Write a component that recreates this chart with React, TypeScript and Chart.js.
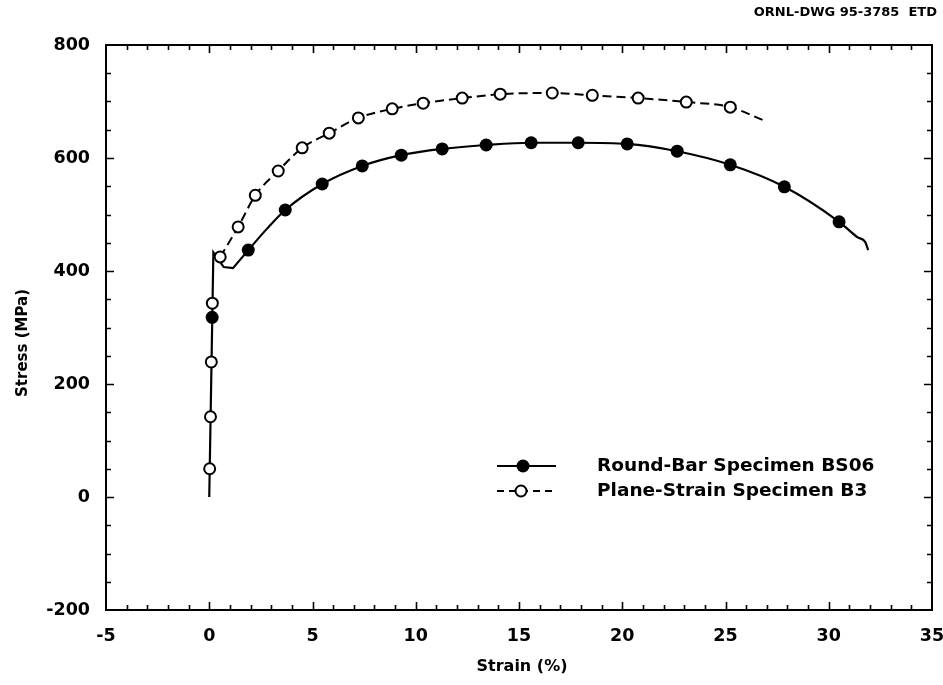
import React, { useEffect, useRef } from "react";
import { Chart, registerables } from "chart.js";

Chart.register(...registerables);

// ---- Data ----
const xMin = -5;
const xMax = 35;
const yMin = -200;
const yMax = 800;

// Round-bar (solid) curve: elastic + yield drop portion
const roundBarYieldStrain = [0, 0.2, 0.7, 1.15, 1.89];
const roundBarYieldStress = [0, 433, 407, 405, 437];
// Round-bar (solid) curve: hardening portion
const roundBarCurveStrain = [1.89, 2.8, 3.68, 5.47, 7.41, 9.3, 11.28, 13.41, 15.59, 17.87, 20.24, 22.66, 25.23, 27.85, 30.5, 31.38, 31.77, 31.91];
const roundBarCurveStress = [437, 475, 508, 554, 586, 605, 616, 623, 627, 627, 625, 612, 588, 549, 487, 460, 451, 437];
// Round-bar markers (filled)
const roundBarMarkStrain = [0.14, 1.89, 3.68, 5.47, 7.41, 9.3, 11.28, 13.41, 15.59, 17.87, 20.24, 22.66, 25.23, 27.85, 30.5];
const roundBarMarkStress = [318, 437, 508, 554, 586, 605, 616, 623, 627, 627, 625, 612, 588, 549, 487];

// Plane-strain (dashed) curve
const planeCurveStrain = [0.53, 1.4, 2.23, 3.34, 4.5, 5.81, 7.22, 8.86, 10.36, 12.25, 14.09, 16.61, 18.55, 20.77, 23.1, 25.23, 26.83];
const planeCurveStress = [425, 478, 534, 577, 618, 644, 671, 687, 697, 706, 713, 715, 711, 706, 699, 690, 667];
// Plane-strain markers (open)
const planeMarkStrain = [0.02, 0.06, 0.1, 0.15, 0.53, 1.4, 2.23, 3.34, 4.5, 5.81, 7.22, 8.86, 10.36, 12.25, 14.09, 16.61, 18.55, 20.77, 23.1, 25.23];
const planeMarkStress = [50, 142, 239, 343, 425, 478, 534, 577, 618, 644, 671, 687, 697, 706, 713, 715, 711, 706, 699, 690];

const seriesLabels = ["Round-Bar Specimen BS06", "Plane-Strain Specimen B3"];
const xTitle = "Strain (%)";
const yTitle = "Stress (MPa)";
const drawingId = "ORNL-DWG 95-3785  ETD";

const FONT = "'DejaVu Sans', 'Liberation Sans', Arial, sans-serif";

const zip = (xs: number[], ys: number[]) => xs.map((x, i) => ({ x, y: ys[i] }));

const framePlugin = {
  id: "frame",
  afterDraw(chart: any) {
    const { ctx, chartArea, scales } = chart;
    const { left, right, top, bottom } = chartArea;
    const xs = scales.x;
    const ys = scales.y;
    ctx.save();
    ctx.strokeStyle = "#000";
    ctx.fillStyle = "#000";
    // frame
    ctx.lineWidth = 2;
    ctx.strokeRect(left, top, right - left, bottom - top);
    // inward ticks
    ctx.lineWidth = 1.6;
    ctx.beginPath();
    for (let v = xMin + 1; v < xMax; v += 1) {
      const px = Math.round(xs.getPixelForValue(v)) + 0.5;
      const len = v % 5 === 0 ? 8 : 5;
      ctx.moveTo(px, bottom);
      ctx.lineTo(px, bottom - len);
      ctx.moveTo(px, top);
      ctx.lineTo(px, top + len);
    }
    for (let v = yMin + 50; v < yMax; v += 50) {
      const py = Math.round(ys.getPixelForValue(v)) + 0.5;
      const len = v % 200 === 0 ? 8 : 5;
      ctx.moveTo(left, py);
      ctx.lineTo(left + len, py);
      ctx.moveTo(right, py);
      ctx.lineTo(right - len, py);
    }
    ctx.stroke();

    // axis titles
    ctx.font = `bold 16px ${FONT}`;
    ctx.textAlign = "center";
    ctx.textBaseline = "middle";
    ctx.fillText(xTitle, (left + right) / 2 + 3, 667);
    ctx.save();
    ctx.translate(23, 343);
    ctx.rotate(-Math.PI / 2);
    ctx.font = `bold 15px ${FONT}`;
    ctx.fillText(yTitle, 0, 0);
    ctx.restore();

    // drawing id
    ctx.font = `bold 13px ${FONT}`;
    ctx.textAlign = "right";
    ctx.fillText(drawingId, 937, 13);

    // legend
    const lx0 = 497;
    const lx1 = 556;
    const textX = 597;
    const rows = [466, 491];
    ctx.font = `bold 18.5px ${FONT}`;
    ctx.textAlign = "left";
    // row 1: solid + filled
    ctx.lineWidth = 2.2;
    ctx.setLineDash([]);
    ctx.beginPath();
    ctx.moveTo(lx0, rows[0]);
    ctx.lineTo(lx1, rows[0]);
    ctx.stroke();
    ctx.beginPath();
    ctx.arc(523, rows[0], 6.5, 0, Math.PI * 2);
    ctx.fill();
    ctx.fillText(seriesLabels[0], textX, rows[0]);
    // row 2: dashed + open
    ctx.lineWidth = 2;
    ctx.setLineDash([7, 5]);
    ctx.beginPath();
    ctx.moveTo(lx0, rows[1]);
    ctx.lineTo(lx1, rows[1]);
    ctx.stroke();
    ctx.setLineDash([]);
    ctx.beginPath();
    ctx.arc(521, rows[1], 5.5, 0, Math.PI * 2);
    ctx.fillStyle = "#fff";
    ctx.fill();
    ctx.stroke();
    ctx.fillStyle = "#000";
    ctx.fillText(seriesLabels[1], textX, rows[1]);
    ctx.restore();
  },
};

export default function App() {
  const canvasRef = useRef<HTMLCanvasElement | null>(null);

  useEffect(() => {
    if (!canvasRef.current) return;
    const chart = new Chart(canvasRef.current, {
      type: "scatter",
      data: {
        datasets: [
          {
            label: seriesLabels[0] + " markers",
            data: zip(roundBarMarkStrain, roundBarMarkStress),
            showLine: false,
            pointRadius: 6.5,
            pointBackgroundColor: "#000",
            pointBorderColor: "#000",
            pointBorderWidth: 0,
            order: 0,
          },
          {
            label: seriesLabels[1] + " markers",
            data: zip(planeMarkStrain, planeMarkStress),
            showLine: false,
            pointRadius: 5.5,
            pointBackgroundColor: "#fff",
            pointBorderColor: "#000",
            pointBorderWidth: 2,
            order: 0,
          },
          {
            label: seriesLabels[0] + " yield",
            data: zip(roundBarYieldStrain, roundBarYieldStress),
            showLine: true,
            pointRadius: 0,
            borderColor: "#000",
            borderWidth: 2.2,
            tension: 0,
            order: 1,
          },
          {
            label: seriesLabels[0],
            data: zip(roundBarCurveStrain, roundBarCurveStress),
            showLine: true,
            pointRadius: 0,
            borderColor: "#000",
            borderWidth: 2.2,
            cubicInterpolationMode: "monotone",
            order: 1,
          },
          {
            label: seriesLabels[1],
            data: zip(planeCurveStrain, planeCurveStress),
            showLine: true,
            pointRadius: 0,
            borderColor: "#000",
            borderWidth: 2,
            borderDash: [9, 5],
            cubicInterpolationMode: "monotone",
            order: 1,
          },
        ],
      },
      options: {
        animation: false,
        responsive: true,
        maintainAspectRatio: false,
        layout: { padding: { top: 45, right: 11, left: 0, bottom: 0 } },
        plugins: {
          legend: { display: false },
          tooltip: { enabled: false },
          title: { display: false },
        },
        scales: {
          x: {
            type: "linear",
            min: xMin,
            max: xMax,
            grid: { display: false, drawTicks: false },
            border: { display: false },
            ticks: {
              stepSize: 5,
              color: "#000",
              padding: 16,
              maxRotation: 0,
              font: { family: FONT, size: 17.5, weight: "bold" },
            },
            afterFit: (s: any) => {
              s.height = 75;
              s.paddingLeft = 0;
              s.paddingRight = 0;
            },
          },
          y: {
            type: "linear",
            min: yMin,
            max: yMax,
            grid: { display: false, drawTicks: false },
            border: { display: false },
            ticks: {
              stepSize: 200,
              color: "#000",
              padding: 16,
              font: { family: FONT, size: 17.5, weight: "bold" },
            },
            afterFit: (s: any) => {
              s.width = 106;
              s.paddingTop = 0;
              s.paddingBottom = 0;
            },
          },
        },
      },
      plugins: [framePlugin],
    });
    return () => chart.destroy();
  }, []);

  return (
    <div style={{ position: "absolute", left: 0, top: 0, width: 943, height: 685, background: "#fff" }}>
      <canvas ref={canvasRef} />
    </div>
  );
}
